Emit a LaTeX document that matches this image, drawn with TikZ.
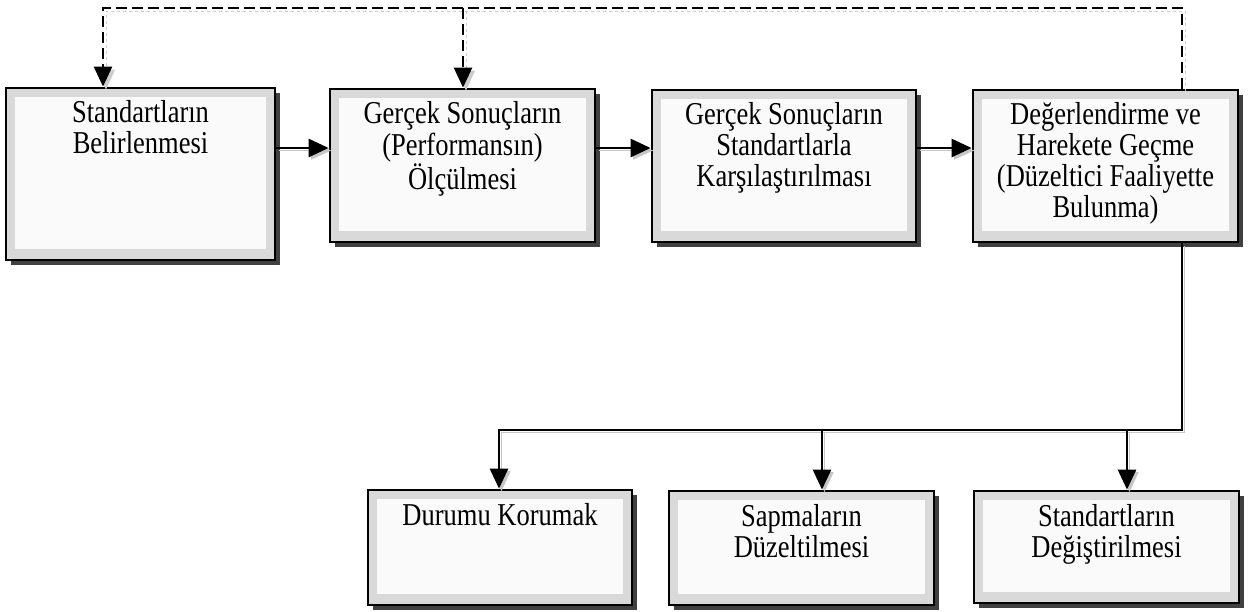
\documentclass[tikz,border=0pt]{standalone}
\usepackage{fontspec}
\setmainfont{Liberation Serif}
\usetikzlibrary{arrows.meta,shadows,calc}
\newcommand{\boxlines}[1]{\scalebox{1}[1.2]{\begin{tabular}{@{}c@{}}#1\end{tabular}}}
\begin{document}
\begin{tikzpicture}[x=1pt,y=-1pt,
  boxnode/.style={rectangle, draw=black, line width=2.8pt, fill=gray!30, inner sep=0pt,
    minimum width=#1,
    drop shadow={shadow xshift=4.5pt, shadow yshift=-4.5pt, fill=black!75, opacity=1},
    path picture={\fill[white!96!gray] ([xshift=9pt,yshift=-9pt]path picture bounding box.north west) rectangle ([xshift=-9pt,yshift=11pt]path picture bounding box.south east);}},
  boxtext/.style={anchor=north, inner sep=0pt, font=\fontsize{26.5}{24.5}\selectfont},
  solidarr/.style={line width=2.8pt, draw=black, -{Triangle[length=20pt,width=18pt]},
    preaction={draw=gray!45, line width=1.6pt, transform canvas={shift={(2.5pt,-2.5pt)}}}},
  dasharr/.style={line width=2.5pt, draw=black, dash pattern=on 11pt off 5pt, -{Triangle[length=20pt,width=18pt]},
    preaction={draw=gray!40, line width=1pt, dash pattern=on 3pt off 3pt, transform canvas={shift={(3pt,-3pt)}}}}
]
\useasboundingbox (0,0) rectangle (1249,611);

% boxes
\node[boxnode=269pt, minimum height=172pt] (b1) at (140.5,174) {};
\node[boxnode=265pt, minimum height=153pt] (b2) at (462.5,165.5) {};
\node[boxnode=264pt, minimum height=152pt] (b3) at (784,166) {};
\node[boxnode=265pt, minimum height=152pt] (b4) at (1105.5,166) {};
\node[boxnode=264pt, minimum height=115pt] (b5) at (500,547.5) {};
\node[boxnode=265pt, minimum height=114pt] (b6) at (801.5,548) {};
\node[boxnode=265pt, minimum height=112pt] (b7) at (1106.5,547) {};

% texts
\node[boxtext] (t1) at ([yshift=-14pt]b1.north) {\boxlines{Standartların\\Belirlenmesi}};
\node[boxtext] (t2) at ([yshift=-14pt]b2.north) {\boxlines{Gerçek Sonuçların\\(Performansın)\\Ölçülmesi}};
\node[boxtext] (t3) at ([yshift=-14pt]b3.north) {\boxlines{Gerçek Sonuçların\\Standartlarla\\Karşılaştırılması}};
\node[boxtext] (t4) at ([yshift=-14pt]b4.north) {\boxlines{Değerlendirme ve\\Harekete Geçme\\(Düzeltici Faaliyette\\Bulunma)}};
\node[boxtext] (t5) at ([yshift=-15pt]b5.north) {\boxlines{Durumu Korumak}};
\node[boxtext] (t6) at ([yshift=-15pt]b6.north) {\boxlines{Sapmaların\\Düzeltilmesi}};
\node[boxtext] (t7) at ([yshift=-15pt]b7.north) {\boxlines{Standartların\\Değiştirilmesi}};

% helper coordinates
\coordinate (row) at (0,148);
\coordinate (fbR) at (1182,8);
\coordinate (fbM) at (463,8);
\coordinate (fbL) at (103,8);
\coordinate (jR) at (1182,430);
\coordinate (j7) at (1127,430);
\coordinate (j6) at (822,430);
\coordinate (jL) at (499,430);

% horizontal flow
\draw[solidarr] (b1.east |- row) -- (b2.west |- row);
\draw[solidarr] (b2.east |- row) -- (b3.west |- row);
\draw[solidarr] (b3.east |- row) -- (b4.west |- row);

% feedback (dashed)
\draw[dasharr] (b4.north -| fbR) -- (fbR) -- (fbL) -- (b1.north -| fbL);
\draw[dasharr] (fbM) -- (b2.north -| fbM);

% outcomes
\draw[solidarr] (b4.south -| jR) -- (jR) -- (jL) -- (b5.north -| jL);
\draw[solidarr] (j6) -- (b6.north -| j6);
\draw[solidarr] (j7) -- (b7.north -| j7);
\end{tikzpicture}
\end{document}
